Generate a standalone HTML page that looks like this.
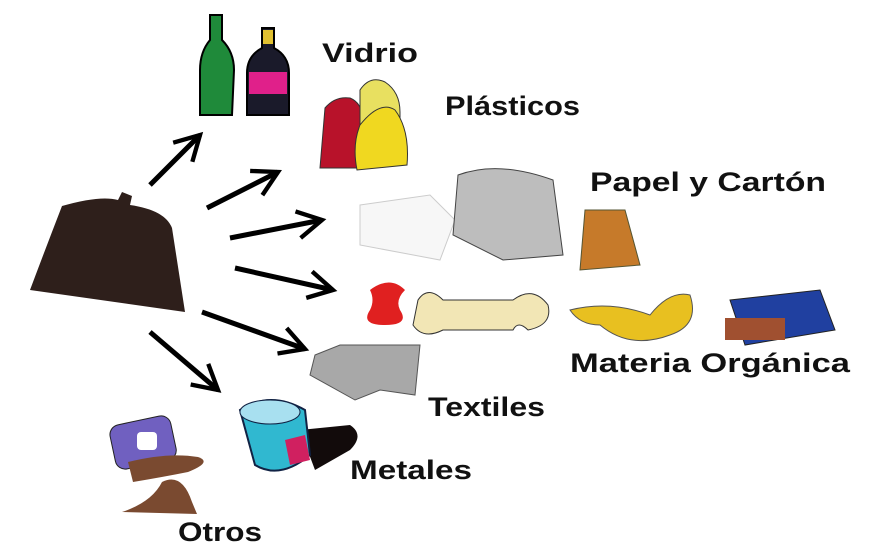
<!DOCTYPE html>
<html><head><meta charset="utf-8"><style>
html,body{margin:0;padding:0;background:#fff;}
body{width:880px;height:549px;overflow:hidden;position:relative;}
svg{position:absolute;left:0;top:0;}
text{font-family:"Liberation Sans","DejaVu Sans",sans-serif;font-weight:bold;font-size:27px;fill:#111;}
</style></head><body>
<svg width="880" height="549" viewBox="0 0 880 549">
<defs>
<marker id="a" viewBox="0 0 12 12" refX="10" refY="6" markerWidth="6.5" markerHeight="6.5" orient="auto" markerUnits="strokeWidth">
<path d="M1,1 L10,6 L1,11" fill="none" stroke="#000" stroke-width="1.6"/>
</marker>
</defs>
<!-- bag -->
<path d="M62,206 Q100,195 118,200 L122,192 L132,196 L130,205 Q165,210 172,228 L185,312 L30,290 Q45,250 62,206Z" fill="#2e1f1b"/>
<!-- arrows -->
<g stroke="#000" stroke-width="5" fill="none" marker-end="url(#a)">
<line x1="150" y1="185" x2="200" y2="135"/>
<line x1="207" y1="208" x2="278" y2="172"/>
<line x1="230" y1="238" x2="322" y2="220"/>
<line x1="235" y1="268" x2="333" y2="290"/>
<line x1="202" y1="312" x2="305" y2="349"/>
<line x1="150" y1="332" x2="218" y2="390"/>
</g>
<!-- bottles -->
<path d="M210,15 h12 v25 q12,12 12,30 l-2,45 h-32 l0,-45 q0,-18 10,-30z" fill="#1f8a3a" stroke="#000" stroke-width="2"/>
<path d="M262,28 h12 v20 q15,8 15,25 v42 h-42 v-42 q0,-17 15,-25z" fill="#1a1a2a" stroke="#000" stroke-width="2"/>
<rect x="249" y="72" width="38" height="22" fill="#e0208a"/>
<rect x="263" y="30" width="10" height="14" fill="#e0c030"/>
<!-- plastics -->
<path d="M325,108 q10,-12 25,-10 q12,5 12,20 v50 h-42z" fill="#b8122a" stroke="#333"/>
<path d="M360,90 q10,-15 25,-8 q15,10 15,30 v50 h-40z" fill="#e8e060" stroke="#333"/>
<path d="M360,125 q20,-25 35,-15 q15,20 12,55 l-50,5 q-5,-25 3,-45z" fill="#f0d820" stroke="#333"/>
<!-- paper -->
<path d="M360,205 l70,-10 l25,25 l-15,40 l-80,-15z" fill="#f7f7f7" stroke="#ccc"/>
<path d="M458,175 q40,-15 95,5 l10,75 l-60,5 l-50,-25z" fill="#bdbdbd" stroke="#444"/>
<path d="M585,210 h40 l15,55 l-60,5z" fill="#c67a2a" stroke="#553"/>
<!-- organic -->
<path d="M370,290 q20,-15 35,0 q-10,10 -5,20 q10,15 -15,15 q-25,0 -15,-15 q5,-10 0,-20z" fill="#e02020"/>
<path d="M418,300 q10,-15 25,0 h70 q20,-15 35,5 q5,20 -20,25 q-10,-10 -15,0 h-70 q-20,10 -30,-5z" fill="#f2e6b5" stroke="#333"/>
<path d="M570,310 q40,-10 80,5 q20,-25 40,-20 q10,30 -20,40 q-40,15 -70,-10 q-20,0 -30,-15z" fill="#e8c020" stroke="#555"/>
<path d="M730,300 l90,-10 l15,40 l-90,15z" fill="#2040a0" stroke="#222"/>
<rect x="725" y="318" width="60" height="22" fill="#a05030"/>
<!-- textiles -->
<path d="M315,355 l25,-10 h80 l-5,50 l-35,-5 l-25,10 l-45,-25z" fill="#a8a8a8" stroke="#555"/>
<!-- can -->
<path d="M300,430 l50,-5 q15,10 0,25 l-35,20z" fill="#120b0b"/>
<path d="M240,410 q30,-20 65,0 l5,45 q-30,25 -55,10z" fill="#30b8d0" stroke="#124" stroke-width="2"/>
<ellipse cx="270" cy="412" rx="30" ry="12" fill="#a8e0f0" stroke="#124"/>
<path d="M285,440 l20,-5 l5,25 l-20,5z" fill="#d02060"/>
<!-- otros -->
<rect x="112" y="420" width="62" height="45" rx="10" fill="#7060c0" stroke="#222" transform="rotate(-12 143 442)"/>
<rect x="137" y="432" width="20" height="18" rx="4" fill="#fff"/>
<path d="M128,462 q40,-10 70,-5 q15,5 -10,15 q-25,5 -55,10z" fill="#7a4a30"/>
<path d="M122,512 q30,-10 40,-30 q20,-10 30,20 l5,12z" fill="#7a4a30"/>
<!-- labels -->
<text x="322" y="62" textLength="96" lengthAdjust="spacingAndGlyphs">Vidrio</text>
<text x="445" y="115" textLength="135" lengthAdjust="spacingAndGlyphs">Plásticos</text>
<text x="590" y="191" textLength="236" lengthAdjust="spacingAndGlyphs">Papel y Cartón</text>
<text x="570" y="372" textLength="280" lengthAdjust="spacingAndGlyphs">Materia Orgánica</text>
<text x="428" y="416" textLength="117" lengthAdjust="spacingAndGlyphs">Textiles</text>
<text x="350" y="479" textLength="122" lengthAdjust="spacingAndGlyphs">Metales</text>
<text x="178" y="541" textLength="84" lengthAdjust="spacingAndGlyphs">Otros</text>
</svg>
</body></html>
